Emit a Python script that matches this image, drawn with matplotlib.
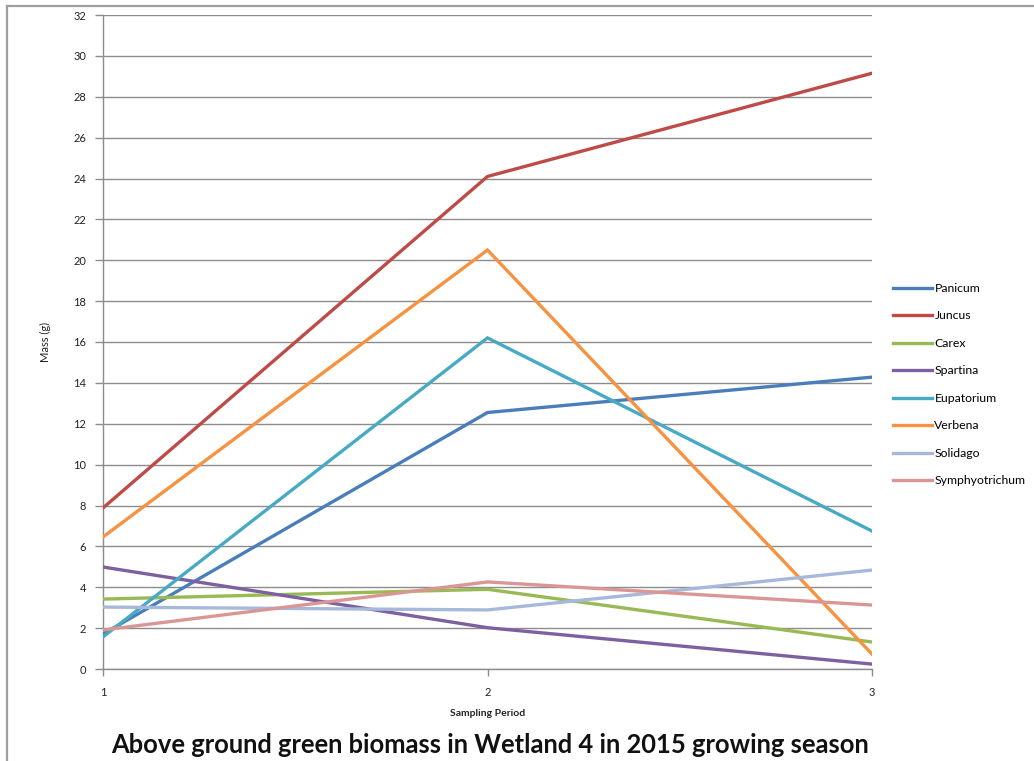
import matplotlib
matplotlib.use("Agg")
import matplotlib.pyplot as plt
from matplotlib.lines import Line2D

plt.rcParams['font.family'] = ['Lato', 'DejaVu Sans']

periods = [1, 2, 3]
species = ["Panicum", "Juncus", "Carex", "Spartina", "Eupatorium",
           "Verbena", "Solidago", "Symphyotrichum"]
panicum = [1.71, 12.55, 14.28]
juncus = [7.88, 24.1, 29.15]
carex = [3.42, 3.9, 1.32]
spartina = [4.99, 2.02, 0.24]
eupatorium = [1.57, 16.2, 6.75]
verbena = [6.46, 20.5, 0.73]
solidago = [3.03, 2.89, 4.84]
symphyotrichum = [1.91, 4.26, 3.13]
series = [panicum, juncus, carex, spartina, eupatorium, verbena,
          solidago, symphyotrichum]
colors = ["#4A7EBB", "#BE4B48", "#98B954", "#7D60A0", "#46AAC5",
          "#F69240", "#A6B9DB", "#DA9694"]
y_ticks = list(range(0, 33, 2))

fig = plt.figure(figsize=(10.34, 7.61), dpi=100)
fig.patch.set_facecolor("white")

# outer chart frame (top and left edges visible)
fig.add_artist(Line2D([7 / 1034, 7 / 1034], [0, 1 - 6 / 761],
                      transform=fig.transFigure, color="#A0A0A0", lw=1.6))
fig.add_artist(Line2D([7 / 1034, 1], [1 - 6 / 761, 1 - 6 / 761],
                      transform=fig.transFigure, color="#A0A0A0", lw=1.6))

ax = fig.add_axes([103 / 1034, 1 - 669 / 761, (872 - 103) / 1034, (669 - 15) / 761])
grid_c = "#8C8C8C"
for y in y_ticks:
    ax.axhline(y, color=grid_c, lw=1.0, zorder=1)

for name, vals, c in zip(species, series, colors):
    ax.plot(periods, vals, color=c, lw=2.4, label=name, zorder=3,
            solid_joinstyle="miter")

ax.set_xlim(1, 3)
ax.set_ylim(0, 32)
ax.set_xticks(periods)
ax.set_yticks(y_ticks)
for s in ["top", "right"]:
    ax.spines[s].set_visible(False)
for s in ["left", "bottom"]:
    ax.spines[s].set_color(grid_c)
    ax.spines[s].set_linewidth(1.0)
ax.tick_params(axis="y", length=6, width=1.0, color=grid_c, labelsize=8,
               pad=6, labelcolor="#222222")
ax.tick_params(axis="x", length=5, width=1.0, color=grid_c, labelsize=8,
               pad=8, labelcolor="#222222")
ax.set_ylabel("Mass (g)", fontsize=8, labelpad=16, color="#222222")
ax.set_xlabel("Sampling Period", fontsize=7.5, fontweight="bold",
              labelpad=8, color="#222222")

leg = fig.legend(loc="upper left", bbox_to_anchor=(888 / 1034, 1 - 278 / 761),
                 frameon=False, fontsize=8.8, handlelength=3.2,
                 handletextpad=0.2, labelspacing=1.35, borderaxespad=0)

fig.text(490 / 1034, 1 - 745 / 761,
         "Above ground green biomass in Wetland 4 in 2015 growing season",
         ha="center", va="center", fontsize=18.4, fontweight="bold",
         color="#111111")

fig.savefig("out.png", dpi=100, facecolor="white")
